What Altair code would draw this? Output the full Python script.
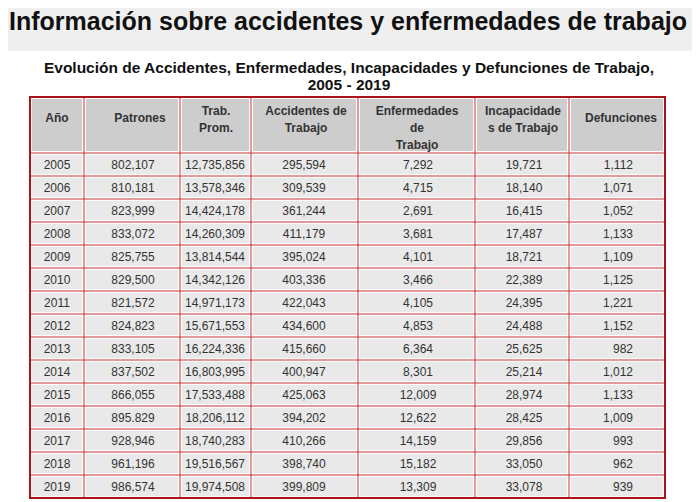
import altair as alt
import pandas as pd

# ---------------- data ----------------
title = "Información sobre accidentes y enfermedades de trabajo"
subtitle = ["Evolución de Accidentes, Enfermedades, Incapacidades y Defunciones de Trabajo,",
            "2005 - 2019"]

headers = [["Año"], ["Patrones"], ["Trab.", "Prom."], ["Accidentes de", "Trabajo"],
           ["Enfermedades", "de", "Trabajo"], ["Incapacidade", "s de Trabajo"], ["Defunciones"]]

years = ["2005", "2006", "2007", "2008", "2009", "2010", "2011", "2012", "2013", "2014",
         "2015", "2016", "2017", "2018", "2019"]
patrones = ["802,107", "810,181", "823,999", "833,072", "825,755", "829,500", "821,572", "824,823",
            "833,105", "837,502", "866,055", "895.829", "928,946", "961,196", "986,574"]
trab_prom = ["12,735,856", "13,578,346", "14,424,178", "14,260,309", "13,814,544", "14,342,126",
             "14,971,173", "15,671,553", "16,224,336", "16,803,995", "17,533,488", "18,206,112",
             "18,740,283", "19,516,567", "19,974,508"]
accidentes = ["295,594", "309,539", "361,244", "411,179", "395,024", "403,336", "422,043", "434,600",
              "415,660", "400,947", "425,063", "394,202", "410,266", "398,740", "399,809"]
enfermedades = ["7,292", "4,715", "2,691", "3,681", "4,101", "3,466", "4,105", "4,853", "6,364",
                "8,301", "12,009", "12,622", "14,159", "15,182", "13,309"]
incapacidades = ["19,721", "18,140", "16,415", "17,487", "18,721", "22,389", "24,395", "24,488",
                 "25,625", "25,214", "28,974", "28,425", "29,856", "33,050", "33,078"]
defunciones = ["1,112", "1,071", "1,052", "1,133", "1,109", "1,125", "1,221", "1,152", "982",
               "1,012", "1,133", "1,009", "993", "962", "939"]

columns = [years, patrones, trab_prom, accidentes, enfermedades, incapacidades, defunciones]

# ---------------- layout (page pixel units) ----------------
W, H = 684, 494
COL_EDGES = [30, 84, 180, 251, 358, 475, 569, 665]
HEAD_TOP, HEAD_BOT, ROW_H = 97, 153, 23
HEAD_X = [57, 140, 216, 306, 417, 523, 621]
HEAD_Y = {1: [118], 2: [111, 128], 3: [111, 128, 145]}
DATA_X = [57, 133, 215, 304, 418, 524, 633]

FONT = "Liberation Sans, Arial, sans-serif"
TXT = "#333333"
GRID = "#c8383c"
BORDER = "#a8141a"

xs = alt.Scale(domain=[8, 8 + W], nice=False, zero=False)
ys = alt.Scale(domain=[8, 8 + H], nice=False, zero=False, reverse=True)
X = lambda f: alt.X(f, type="quantitative", scale=xs, axis=None)
Y = lambda f: alt.Y(f, type="quantitative", scale=ys, axis=None)

n_rows = len(years)
TABLE_BOT = HEAD_BOT + ROW_H * n_rows

# banner
banner = alt.Chart(pd.DataFrame({"x": [8], "x2": [8 + W], "y": [8], "y2": [51]})).mark_rect(
    color="#efefef").encode(x=X("x"), x2="x2", y=Y("y"), y2="y2")

title_l = alt.Chart(pd.DataFrame({"x": [9], "y": [30], "t": [title]})).mark_text(
    align="left", baseline="alphabetic", font=FONT,
    fontSize=25, fontWeight="bold", color="#111111").encode(x=X("x"), y=Y("y"), text="t:N")

sub_l = alt.Chart(pd.DataFrame({"x": [349, 349], "y": [73, 90], "t": subtitle})).mark_text(
    align="center", baseline="alphabetic", font=FONT, fontSize=15.5, fontWeight="bold",
    color="#111111").encode(x=X("x"), y=Y("y"), text="t:N")

# table background + cells
cells = []
for c in range(7):
    x1, x2 = COL_EDGES[c], COL_EDGES[c + 1]
    cells.append({"x": x1 + 2, "x2": x2 - 2, "y": HEAD_TOP + 2, "y2": HEAD_BOT - 2, "kind": "head"})
    for r in range(n_rows):
        y1 = HEAD_BOT + r * ROW_H
        cells.append({"x": x1 + 2, "x2": x2 - 2, "y": y1 + 2, "y2": y1 + ROW_H - 2, "kind": "data"})
cells_df = pd.DataFrame(cells)

table_bg = alt.Chart(pd.DataFrame({"x": [COL_EDGES[0]], "x2": [COL_EDGES[-1]],
                                   "y": [HEAD_TOP], "y2": [TABLE_BOT]})).mark_rect(
    color="#fbfbfb").encode(x=X("x"), x2="x2", y=Y("y"), y2="y2")

cell_l = alt.Chart(cells_df).mark_rect().encode(
    x=X("x"), x2="x2", y=Y("y"), y2="y2",
    color=alt.Color("kind:N", scale=alt.Scale(domain=["head", "data"], range=["#cdcdcd", "#e9e9e9"]),
                    legend=None))

# grid lines
rules = []
for xe in COL_EDGES[1:-1]:
    rules.append({"x": xe, "x2": xe, "y": HEAD_TOP, "y2": TABLE_BOT})
for r in range(n_rows):
    ye = HEAD_BOT + r * ROW_H
    rules.append({"x": COL_EDGES[0], "x2": COL_EDGES[-1], "y": ye, "y2": ye})
grid_l = alt.Chart(pd.DataFrame(rules)).mark_rule(color=GRID, strokeWidth=1).encode(
    x=X("x"), x2="x2", y=Y("y"), y2="y2")

border_l = alt.Chart(pd.DataFrame({"x": [COL_EDGES[0]], "x2": [COL_EDGES[-1]],
                                   "y": [HEAD_TOP], "y2": [TABLE_BOT]})).mark_rect(
    fill=None, stroke=BORDER, strokeWidth=2).encode(x=X("x"), x2="x2", y=Y("y"), y2="y2")

# header text
head_rows = []
for c, lines in enumerate(headers):
    for i, ln in enumerate(lines):
        head_rows.append({"x": HEAD_X[c], "y": HEAD_Y[len(lines)][i], "t": ln})
head_l = alt.Chart(pd.DataFrame(head_rows)).mark_text(
    align="center", baseline="middle", font=FONT, fontSize=12, fontWeight="bold",
    color=TXT).encode(x=X("x"), y=Y("y"), text="t:N")

# data text
data_rows = []
for c, vals in enumerate(columns):
    for r, v in enumerate(vals):
        data_rows.append({"x": DATA_X[c], "y": HEAD_BOT + r * ROW_H + ROW_H / 2, "t": v,
                          "col": c})
data_df = pd.DataFrame(data_rows)
data_c = alt.Chart(data_df[data_df.col < 6]).mark_text(
    align="center", baseline="middle", font=FONT, fontSize=12, color=TXT).encode(
    x=X("x"), y=Y("y"), text="t:N")
data_r = alt.Chart(data_df[data_df.col == 6]).mark_text(
    align="right", baseline="middle", font=FONT, fontSize=12, color=TXT).encode(
    x=X("x"), y=Y("y"), text="t:N")

chart = alt.layer(banner, title_l, sub_l, table_bg, cell_l, grid_l, border_l,
                  head_l, data_c, data_r).properties(
    width=W, height=H, autosize=alt.AutoSizeParams(type="none"), padding=0
).configure_view(stroke=None)

chart.save("out.html", embed_options={"renderer": "svg", "actions": False})
